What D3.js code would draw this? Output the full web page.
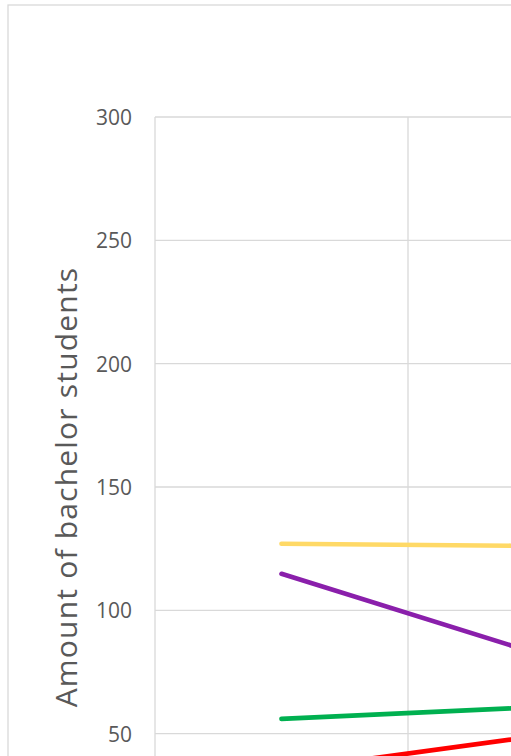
<!DOCTYPE html>
<html>
<head>
<meta charset="utf-8">
<script src="https://cdn.jsdelivr.net/npm/d3@7"></script>
<style>
  body { margin: 0; background: #fff; overflow: hidden; }
  svg { display: block; }
</style>
</head>
<body>
<svg id="chart"></svg>
<script>
// Data
const categories = ['Year 1', 'Year 2'];
const seriesNames = ['Yellow', 'Purple', 'Green', 'Red'];
const seriesColors = ['#FFD966', '#8A1FAB', '#00B050', '#FF0000'];
const yellowValues = [127, 126.1];
const purpleValues = [114.8, 82.8];
const greenValues = [56, 60.7];
const redValues = [35, 48.9];
const yTicks = [0, 50, 100, 150, 200, 250, 300];

const allSeries = [yellowValues, purpleValues, greenValues, redValues];

const width = 511;
const height = 756;
const margin = { top: 117, left: 155 };
const bandWidth = 253;
const plotHeight = 740;

const svg = d3.select('#chart')
  .attr('width', width)
  .attr('height', height);

// Chart border
svg.append('rect')
  .attr('x', 8)
  .attr('y', 5)
  .attr('width', 900)
  .attr('height', 1100)
  .attr('fill', '#fff')
  .attr('stroke', '#D9D9D9')
  .attr('stroke-width', 1.3);

const x = d3.scaleBand()
  .domain(categories)
  .range([margin.left, margin.left + bandWidth * categories.length]);

const y = d3.scaleLinear()
  .domain([0, 300])
  .range([margin.top + plotHeight, margin.top]);

// Horizontal gridlines
svg.append('g')
  .selectAll('line')
  .data(yTicks)
  .enter()
  .append('line')
  .attr('x1', margin.left)
  .attr('x2', margin.left + bandWidth * categories.length)
  .attr('y1', (d) => y(d))
  .attr('y2', (d) => y(d))
  .attr('stroke', '#D9D9D9')
  .attr('stroke-width', 1.3);

// Vertical gridlines at category boundaries
const bounds = categories.map((c) => x(c)).concat([x(categories[categories.length - 1]) + x.bandwidth()]);
svg.append('g')
  .selectAll('line')
  .data(bounds)
  .enter()
  .append('line')
  .attr('x1', (d) => d)
  .attr('x2', (d) => d)
  .attr('y1', margin.top)
  .attr('y2', margin.top + plotHeight)
  .attr('stroke', '#D9D9D9')
  .attr('stroke-width', 1.3);

// Y tick labels (only the ones inside the visible window)
svg.append('g')
  .selectAll('text')
  .data(yTicks.filter((d) => y(d) < height - 10))
  .enter()
  .append('text')
  .attr('x', 132)
  .attr('y', (d) => y(d))
  .attr('text-anchor', 'end')
  .attr('dominant-baseline', 'central')
  .attr('fill', '#595959')
  .attr('font-family', 'Open Sans, sans-serif')
  .attr('font-size', '21px')
  .text((d) => d);

// Y axis title
svg.append('text')
  .attr('transform', `translate(77,${margin.top + plotHeight / 2}) rotate(-90)`)
  .attr('text-anchor', 'middle')
  .attr('fill', '#595959')
  .attr('font-family', 'Open Sans, sans-serif')
  .attr('font-size', '30px')
  .attr('letter-spacing', '1.2px')
  .text('Amount of bachelor students');

// Lines
const line = d3.line()
  .x((d, i) => x(categories[i]) + x.bandwidth() / 2)
  .y((d) => y(d));

svg.append('g')
  .selectAll('path')
  .data(allSeries)
  .enter()
  .append('path')
  .attr('d', (d) => line(d))
  .attr('fill', 'none')
  .attr('stroke', (d, i) => seriesColors[i])
  .attr('stroke-width', 4.7)
  .attr('stroke-linecap', 'round');
</script>
</body>
</html>
